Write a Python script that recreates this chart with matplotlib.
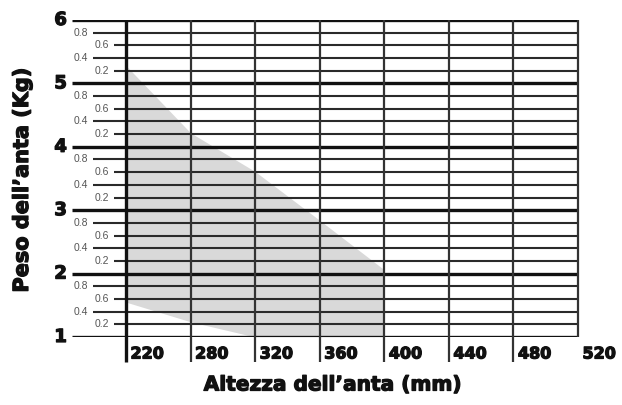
import matplotlib
matplotlib.use("Agg")
import matplotlib.pyplot as plt
import matplotlib.patheffects as pe

# ---- data ----
x_labels = ['220', '280', '320', '360', '400', '440', '480', '520']
area_x_index = [0, 1, 2, 3, 4]              # 220 .. 400
area_upper = [5.28, 4.22, 3.61, 2.84, 2.06]  # max weight (Kg)
area_lower = [1.55, 1.24, 1.00, 1.00, 1.00]  # min weight (Kg)
major_y = [1, 2, 3, 4, 5, 6]
minor_frac = [0.2, 0.4, 0.6, 0.8]
minor_labels = ['0.2', '0.4', '0.6', '0.8']

W, H = 622, 405
fig = plt.figure(figsize=(W / 100, H / 100), dpi=100)

# axes = grid region: px x 72..578, py 20..337
left_px, right_px, top_px, bot_px = 72, 578, 20, 337
ax = fig.add_axes([left_px / W, 1 - bot_px / H, (right_px - left_px) / W, (bot_px - top_px) / H])
step = (578 - 126) / 7.0
xmin = (left_px - 126) / step
ax.set_xlim(xmin, 7)
ax.set_ylim(1, 6)
ax.axis('off')

stroke = [pe.withStroke(linewidth=0.9, foreground='#111111')]
heavy = dict(family=['DejaVu Sans'], fontweight='bold', path_effects=stroke)

# shaded area
ax.fill_between(area_x_index, area_lower, area_upper, color='#d9d9d9', lw=0, zorder=1)

# minor horizontal lines with labels
for y0 in major_y[:-1]:
    for f, lab in zip(minor_frac, minor_labels):
        y = y0 + f
        start_px = 93 if lab in ('0.8', '0.4') else 114
        xs = (start_px - 126) / step
        ax.plot([xs, 7], [y, y], color='#2a2a2a', lw=1.5, zorder=2, solid_capstyle='butt')
        ax.text(xs - 0.08, y, lab, ha='right', va='center', fontsize=7.5,
                color='#555555', family=['Liberation Sans', 'DejaVu Sans'])

# major horizontal lines + labels
for y in major_y:
    ax.plot([xmin, 7], [y, y], color='#111111', lw=2.4, zorder=3, solid_capstyle='butt')
    ax.text(xmin - 0.08, y, str(y), ha='right', va='center', fontsize=13,
            color='#111111', clip_on=False, **heavy)

# vertical lines + x labels
for i, lab in enumerate(x_labels):
    lw = 2.4 if i == 0 else 1.6
    col = '#111111' if i == 0 else '#333333'
    ybot = 1 if i == len(x_labels) - 1 else 1 - 25 / 63.4
    ax.plot([i, i], [ybot, 6], color=col, lw=lw, zorder=4, clip_on=False,
            solid_capstyle='butt')
    ax.text(i + 0.07, 1 - 17 / 63.4, lab, ha='left', va='center', fontsize=11.5,
            color='#111111', clip_on=False, **heavy)

fig.text(333 / W, 1 - 385 / H, 'Altezza dell\u2019anta (mm)', ha='center', va='center',
         fontsize=14.5, color='#111111', **heavy)
fig.text(22 / W, 1 - 180 / H, 'Peso dell\u2019anta (Kg)', ha='center', va='center',
         rotation=90, fontsize=15, color='#111111', **heavy)

fig.savefig('out.png', dpi=100, facecolor='white')
